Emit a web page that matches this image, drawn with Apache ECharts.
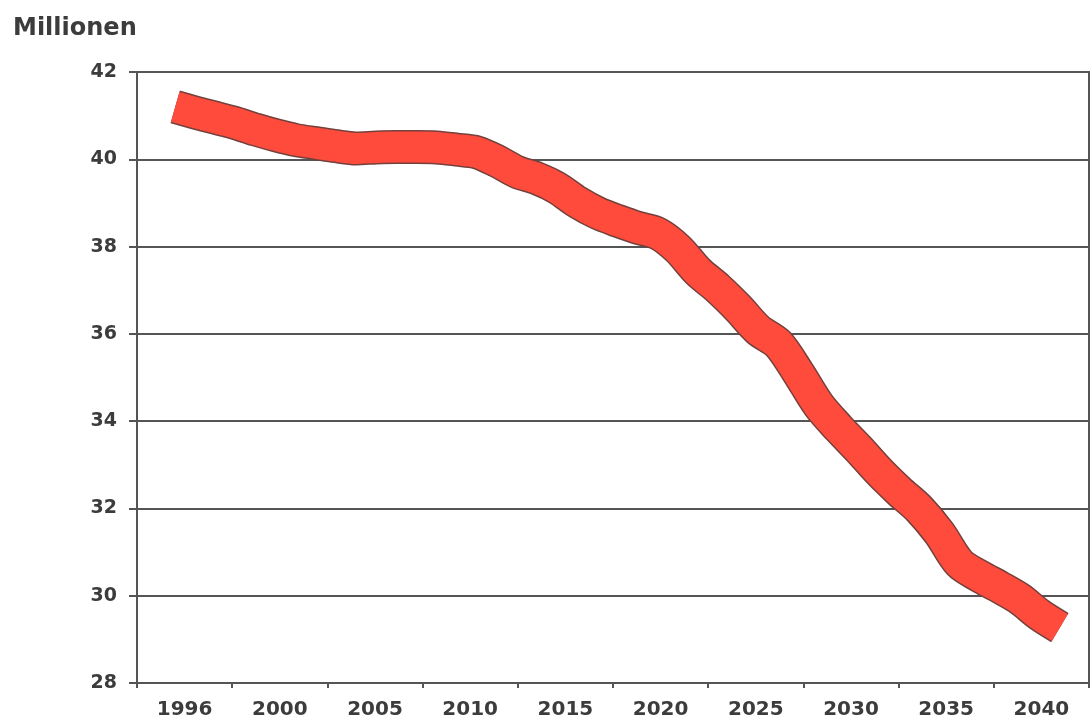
<!DOCTYPE html>
<html>
<head>
<meta charset="utf-8">
<script src="https://cdn.jsdelivr.net/npm/echarts@6/dist/echarts.min.js"></script>
<style>
html,body{margin:0;padding:0;background:#fff;}
#chart{width:1090px;height:724px;}
</style>
</head>
<body>
<div id="chart"></div>
<script>
const categories = ['1996','2000','2005','2010','2015','2020','2025','2030','2035','2040'];
const years = [1996,1997,1998,1999,2000,2001,2002,2003,2004,2005,2006,2007,2008,2009,2010,
  2011,2012,2013,2014,2015,2016,2017,2018,2019,2020,2021,2022,2023,2024,2025,
  2026,2027,2028,2029,2030,2031,2032,2033,2034,2035,2036,2037,2038,2039,2040];
const population = [41.20,41.07,40.95,40.83,40.68,40.55,40.44,40.37,40.30,40.25,40.27,40.28,40.28,40.27,40.22,
  40.16,39.96,39.71,39.56,39.34,39.02,38.77,38.59,38.43,38.30,37.95,37.43,37.04,36.59,36.09,
  35.77,35.10,34.37,33.84,33.36,32.85,32.40,31.99,31.44,30.75,30.45,30.20,29.93,29.56,29.27];
const yTicks = {min: 28, max: 42, interval: 2};

const seriesData = years.map((y, i) => [y, population[i]]);
const chart = echarts.init(document.getElementById('chart'), null, {renderer: 'canvas'});
const numFont = 'DejaVu Sans';
chart.setOption({
  animation: false,
  backgroundColor: '#ffffff',
  title: {
    text: 'Millionen',
    left: 8, top: 12,
    textStyle: {fontFamily: numFont, fontWeight: 'bold', fontSize: 24, color: '#3c3c3c'}
  },
  grid: {left: 137, right: 1, top: 72, bottom: 41, show: true, borderColor: '#555', borderWidth: 2, backgroundColor: 'transparent'},
  xAxis: [{
    type: 'category',
    data: categories,
    boundaryGap: true,
    axisLine: {lineStyle: {color: '#555', width: 2}},
    axisTick: {show: true, length: 5, interval: 0, lineStyle: {color: '#555', width: 2}},
    axisLabel: {interval: 0, margin: 17, fontFamily: numFont, fontWeight: 'bold', fontSize: 20, color: '#3c3c3c'},
    splitLine: {show: false}
  }, {
    type: 'value',
    min: 1994.1,
    max: 2041.45,
    show: false
  }],
  yAxis: {
    type: 'value',
    min: yTicks.min, max: yTicks.max, interval: yTicks.interval,
    axisLine: {show: true, lineStyle: {color: '#555', width: 2}},
    axisTick: {show: true, length: 8, lineStyle: {color: '#555', width: 2}},
    axisLabel: {margin: 20, fontFamily: numFont, fontWeight: 'bold', fontSize: 19, color: '#3c3c3c'},
    splitLine: {show: true, lineStyle: {color: '#555', width: 2}}
  },
  series: [{
    type: 'line',
    xAxisIndex: 1,
    data: seriesData,
    showSymbol: false,
    silent: true,
    smooth: 0.3,
    lineStyle: {color: '#74403c', width: 34, cap: 'butt', join: 'round'}
  }, {
    type: 'line',
    xAxisIndex: 1,
    data: seriesData,
    showSymbol: false,
    silent: true,
    smooth: 0.3,
    lineStyle: {color: '#ff4b3c', width: 31, cap: 'butt', join: 'round'}
  }]
});
</script>
</body>
</html>
